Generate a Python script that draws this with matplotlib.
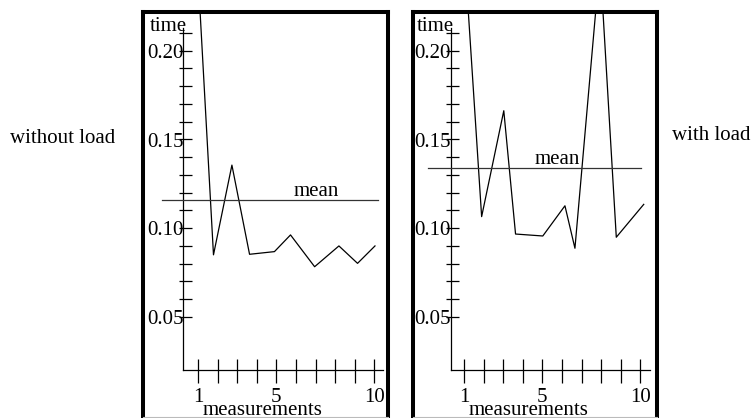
import matplotlib.pyplot as plt

meas_noload = [1, 1.79, 2.73, 3.63, 4.90, 5.72, 6.95, 8.19, 9.14, 10.03]
time_noload = [0.243, 0.085, 0.1355, 0.0853, 0.0868, 0.0962, 0.0783, 0.090, 0.0802, 0.090]
mean_noload = 0.116

meas_load = [1, 1.90, 3.03, 3.63, 5.02, 6.15, 6.66, 7.94, 8.77, 10.17]
time_load = [0.259, 0.1065, 0.1661, 0.0967, 0.0956, 0.1126, 0.0887, 0.2498, 0.0949, 0.1134]
mean_load = 0.134

xticks = [1, 2, 3, 4, 5, 6, 7, 8, 9, 10]
xticklabels = {1: '1', 5: '5', 10: '10'}
yticks = [0.05, 0.06, 0.07, 0.08, 0.09, 0.10, 0.11, 0.12, 0.13, 0.14, 0.15,
          0.16, 0.17, 0.18, 0.19, 0.20, 0.21]
yticklabels = {0.05: '0.05', 0.10: '0.10', 0.15: '0.15', 0.20: '0.20'}

W, H = 752, 418
FS = 15
plt.rcParams['font.family'] = ['Liberation Serif', 'DejaVu Serif']

fig = plt.figure(figsize=(W / 100, H / 100), dpi=100)

# pixel layout shared by both frames
TOP, BOT = 11.7, 417.0
Y20, PPV = 50.5, 1776.7   # pixel row of 0.20, pixels per unit time
PPU = 19.6                # pixels per measurement
LW = 0.9


def panel(left, right, x1, ax_x, xs, ys, mean, mean_x, mean_span, axis_end):
    ax = fig.add_axes([left / W, 1 - BOT / H, (right - left) / W, (BOT - TOP) / H])
    ax.set_xlim(1 + (left - x1) / PPU, 1 + (right - x1) / PPU)
    ax.set_ylim(0.20 - (BOT - Y20) / PPV, 0.20 + (Y20 - TOP) / PPV)
    ax.set_xticks([])
    ax.set_yticks([])
    for s in ['left', 'right', 'top']:
        ax.spines[s].set_linewidth(2.9)
        ax.spines[s].set_color('black')
    ax.spines['bottom'].set_linewidth(0.8)
    ax.spines['bottom'].set_color('#bbbbbb')

    y0 = 0.0202
    # hand drawn axes with crossing ticks
    ax.plot([ax_x, ax_x], [y0, 0.2125], color='black', lw=LW)
    ax.plot([ax_x, axis_end], [y0, y0], color='black', lw=LW)
    ax.hlines(yticks, ax_x - 0.22, ax_x + 0.45, color='black', lw=LW)
    ax.vlines(xticks, y0 - 0.0076, y0 + 0.006, color='black', lw=LW)

    for v, lbl in yticklabels.items():
        ax.annotate(lbl, (ax_x, v), xytext=(0, -2), textcoords='offset points',
                    ha='right', va='center', fontsize=FS)
    for v, lbl in xticklabels.items():
        ax.text(v, 0.0023, lbl, ha='center', va='baseline', fontsize=FS)
    ax.text(4.3, -0.0052, 'measurements', ha='center', va='baseline', fontsize=FS)
    ax.text(ax_x + 0.18, 0.211, 'time', ha='right', va='baseline', fontsize=FS)

    ax.plot(xs, ys, color='black', lw=LW)
    ax.plot(mean_span, [mean, mean], color='#333333', lw=LW)
    ax.text(mean_x, mean + 0.002, 'mean', ha='center', va='baseline', fontsize=FS)
    return ax


panel(143, 388, 198, 0.25, meas_noload, time_noload, mean_noload, 7.04, [-0.86, 10.16], 10.44)
panel(413, 657, 464, 0.32, meas_load, time_load, mean_load, 5.74, [-0.86, 10.03], 10.49)

fig.text(10 / W, 1 - 143.3 / H, 'without load', ha='left', va='baseline', fontsize=FS)
fig.text(671.7 / W, 1 - 140 / H, 'with load', ha='left', va='baseline', fontsize=FS)

fig.savefig('out.png', dpi=100)
